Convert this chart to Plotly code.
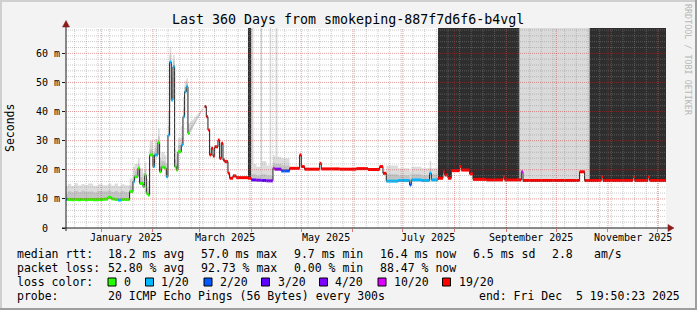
import plotly.graph_objects as go
import pandas as pd

# ---------------- data ----------------
TITLE = "Last 360 Days from smokeping-887f7d6f6-b4vgl"
X_START = "2024-12-10 19:50:23"
X_END = "2025-12-05 19:50:23"
Y_MAX = 68.7

dates = [
    "2024-12-10 19:50", "2024-12-12", "2024-12-14", "2024-12-16", "2024-12-18", "2024-12-20",
    "2024-12-22", "2024-12-24", "2024-12-27", "2024-12-30", "2025-01-02", "2025-01-05",
    "2025-01-07", "2025-01-09", "2025-01-11", "2025-01-13", "2025-01-15", "2025-01-18",
    "2025-01-20", "2025-01-21", "2025-01-23", "2025-01-24", "2025-01-26", "2025-01-27",
    "2025-01-28", "2025-01-29", "2025-01-30", "2025-02-01", "2025-02-02", "2025-02-04",
    "2025-02-05", "2025-02-06", "2025-02-08", "2025-02-09", "2025-02-10", "2025-02-11",
    "2025-02-12", "2025-02-13", "2025-02-14", "2025-02-15", "2025-02-16", "2025-02-18",
    "2025-02-19", "2025-02-20", "2025-02-21", "2025-02-22", "2025-02-23",
    "2025-03-04", "2025-03-05", "2025-03-06", "2025-03-07", "2025-03-08", "2025-03-09",
    "2025-03-10", "2025-03-12", "2025-03-13", "2025-03-14", "2025-03-15", "2025-03-16",
    "2025-03-18", "2025-03-19", "2025-03-21", "2025-03-23", "2025-03-30",
    "2025-04-01", "2025-04-04", "2025-04-07", "2025-04-10", "2025-04-14", "2025-04-15",
    "2025-04-19", "2025-04-24", "2025-04-30", "2025-05-01", "2025-05-03", "2025-05-12",
    "2025-05-13", "2025-05-24", "2025-06-03", "2025-06-10", "2025-06-17", "2025-06-19",
    "2025-06-21", "2025-06-28", "2025-07-05", "2025-07-06", "2025-07-12", "2025-07-17",
    "2025-07-18", "2025-07-22", "2025-07-25", "2025-07-26", "2025-07-28", "2025-07-30",
    "2025-08-04", "2025-08-05", "2025-08-10", "2025-08-12", "2025-08-20", "2025-08-30",
    "2025-08-31", "2025-09-10", "2025-09-11", "2025-10-15", "2025-10-18", "2025-10-28",
    "2025-10-29", "2025-11-16", "2025-11-17", "2025-11-25", "2025-11-26", "2025-12-05 19:50",
]
median_ms = [
    9.9, 9.8, 9.7, 9.8, 9.7, 9.8,
    9.7, 9.8, 9.7, 9.8, 9.9, 10.5,
    10.0, 9.8, 9.6, 9.8, 9.8, 12.5,
    15.9, 17.6, 20.5, 15.3, 14.2, 18.2,
    11.9, 11.3, 25.1, 21.1, 25.1, 29.4,
    19.3, 20.9, 20.5, 17.6, 31.9, 57.0,
    44.0, 55.4, 21.1, 19.9, 26.2, 28.5,
    38.2, 46.8, 48.5, 32.5, None,
    41.7, 38.2, 33.7, 25.1, 27.4, 24.7,
    27.9, 30.2, 23.9, 29.1, 23.4, 22.8,
    18.8, 17.1, 17.9, 17.3, 17.1,
    16.5, 16.4, 16.3, 16.2, 20.5, 20.2,
    19.6, 20.5, 25.1, 21.1, 20.2, 22.2,
    20.3, 20.2, 20.4, 20.1, 21.1, 18.8,
    16.1, 16.3, 14.8, 16.5, 16.3, 18.8,
    16.5, 17.1, 19.3, 18.2, 17.1, 19.7,
    21.1, 19.9, 18.6, 16.7, 16.5, 17.6,
    16.5, 19.3, 16.3, 19.3, 16.3, 17.6,
    16.3, 17.6, 16.3, 17.6, 16.3, 16.4,
]
# index into loss_labels / loss_colors
loss_idx = [
    1, 0, 0, 0, 0, 0,
    0, 0, 0, 0, 0, 0,
    0, 0, 1, 0, 0, 0,
    1, 0, 0, 0, 0, 0,
    0, 0, 0, 1, 1, 0,
    0, 0, 0, 1, 1, 1,
    1, 1, 0, 0, 0, 1,
    1, 1, 1, 0, None,
    6, 6, 6, 6, 6, 6,
    6, 6, 6, 6, 6, 6,
    6, 6, 6, 6, 6,
    3, 4, 3, 4, 5, 4,
    2, 6, 6, 6, 6, 6,
    6, 6, 6, 6, 6, 6,
    1, 1, 2, 1, 1, 1,
    1, 6, 6, 6, 6, 6,
    6, 6, 6, 6, 6, 6,
    6, 5, 6, 6, 6, 6,
    6, 6, 6, 6, 6, 6,
]
smoke_mid = [
    11.8, 12.6, 12.2, 12.8, 12.3, 12.9,
    12.4, 12.6, 12.2, 12.7, 12.5, 12.9,
    12.4, 12.7, 12.2, 12.6, 12.3, 14.5,
    18.0, 19.5, 22.0, 17.5, 16.0, 20.0,
    14.0, 13.5, 27.0, 23.0, 27.5, 31.5,
    21.5, 23.0, 22.5, 19.5, 35.0, 59.5,
    47.0, 57.5, 23.5, 22.0, 28.5, 31.0,
    41.0, 48.5, 50.0, 34.0, None,
    41.7, 38.2, 33.7, 25.1, 27.4, 24.7,
    27.9, 30.2, 23.9, 29.1, 23.4, 22.8,
    18.8, 17.1, 17.9, 17.3, 17.1,
    18.5, 18.0, 18.5, 18.0, 22.5, 22.0,
    21.5, 20.5, 25.1, 21.1, 20.2, 22.2,
    20.3, 20.2, 20.4, 20.1, 21.1, 18.8,
    18.5, 18.0, 17.0, 18.5, 18.0, 20.5,
    18.5, 17.1, 19.3, 18.2, 17.1, 19.7,
    21.1, 19.9, 18.6, 16.7, 16.5, 17.6,
    16.5, 19.3, 16.3, 19.3, 16.3, 17.6,
    16.3, 17.6, 16.3, 17.6, 16.3, 16.4,
]
smoke_hi = [
    14.5, 15.2, 14.4, 15.4, 14.6, 15.1,
    14.8, 15.3, 14.5, 15.0, 14.7, 15.2,
    14.6, 15.3, 14.4, 15.0, 14.7, 17.0,
    21.0, 22.0, 24.0, 20.5, 19.0, 22.5,
    17.0, 16.0, 30.0, 26.0, 30.5, 34.2,
    24.0, 26.0, 25.0, 22.0, 40.0, 62.3,
    52.0, 59.4, 27.0, 25.5, 31.0, 35.0,
    45.0, 50.5, 51.4, 36.0, None,
    41.7, 38.2, 33.7, 25.1, 27.4, 24.7,
    27.9, 30.2, 23.9, 29.1, 23.4, 22.8,
    18.8, 17.1, 17.9, 17.3, 17.1,
    22.0, 21.0, 23.0, 21.5, 25.0, 24.5,
    24.0, 20.5, 25.1, 21.1, 20.2, 22.2,
    20.3, 20.2, 20.4, 20.1, 21.1, 18.8,
    21.5, 20.5, 19.5, 21.0, 20.5, 23.0,
    20.5, 17.1, 19.3, 18.2, 17.1, 19.7,
    21.1, 19.9, 18.6, 16.7, 16.5, 17.6,
    16.5, 19.3, 16.3, 19.3, 16.3, 17.6,
    16.3, 17.6, 16.3, 17.6, 16.3, 16.4,
]

# full-height smoke spans (loss periods)
band_start = ["2025-03-30", "2025-04-01", "2025-04-06 12:00", "2025-04-12", "2025-04-15 12:00",
              "2025-07-22", "2025-09-09", "2025-10-21"]
band_end = ["2025-04-01", "2025-04-02 08:00", "2025-04-07 12:00", "2025-04-13", "2025-04-16 18:00",
            "2025-09-09", "2025-10-21", "2025-12-05 19:50:23"]
band_shade = ["dark", "light", "light", "light", "light", "dark", "light", "dark"]

loss_labels = ["0", "1/20", "2/20", "3/20", "4/20", "10/20", "19/20"]
loss_colors = ["#26ff00", "#00b8ff", "#0059ff", "#5e00ff", "#7e00ff", "#dd00ff", "#ff0000"]

y_tick_vals = [0, 10, 20, 30, 40, 50, 60]
y_tick_text = ["0\u00a0\u00a0", "10 m", "20 m", "30 m", "40 m", "50 m", "60 m"]
x_label_dates = ["2025-01-16", "2025-03-16", "2025-05-16", "2025-07-16", "2025-09-16", "2025-11-16"]
x_label_text = ["January 2025", "March 2025", "May 2025", "July 2025", "September 2025", "November 2025"]

rtt_stats = ["18.2 ms avg", "57.0 ms max", "9.7 ms min", "16.4 ms now", "6.5 ms sd", "2.8", "am/s"]
loss_stats = ["52.80 % avg", "92.73 % max", "0.00 % min", "88.47 % now"]
probe_text = "20 ICMP Echo Pings (56 Bytes) every 300s"
end_text = "end: Fri Dec\u00a0\u00a05 19:50:23 2025"

# ---------------- layout helpers (pixel -> paper) ----------------
W, H = 697, 310
L, R, T, B = 66, 31, 28, 82
PW, PH = W - L - R, H - T - B


def px(x):
    return (x - L) / PW


def py(y):
    return (H - B - y) / PH


MONO = "DejaVu Sans Mono"
shade_col = {"dark": "#2e2e2e", "light": "#dadada"}

fig = go.Figure()

# loss bands
for s, e, sh in zip(band_start, band_end, band_shade):
    fig.add_trace(go.Scatter(x=[s, e, e, s, s], y=[0, 0, Y_MAX, Y_MAX, 0], fill="toself",
                             fillcolor=shade_col[sh], line=dict(width=0), mode="lines",
                             hoverinfo="skip", showlegend=False))


def step_xy(vals):
    xs, ys = [], []
    for i in range(len(dates) - 1):
        v = vals[i]
        if v is None:
            xs.append(None)
            ys.append(None)
            continue
        xs += [dates[i], dates[i + 1]]
        ys += [v, v]
    return xs, ys


for vals, col in [(smoke_hi, "#dddddd"), (smoke_mid, "#c4c4c4"), (median_ms, "#ffffff")]:
    xs, ys = step_xy(vals)
    fig.add_trace(go.Scatter(x=xs, y=ys, mode="lines", fill="tozeroy", fillcolor=col,
                             line=dict(width=0, color=col), connectgaps=False,
                             hoverinfo="skip", showlegend=False))

xs, ys = step_xy(median_ms)
fig.add_trace(go.Scatter(x=xs, y=ys, mode="lines", line=dict(width=1, color="#202020"),
                         connectgaps=False, hoverinfo="skip", showlegend=False))

for ci, col in enumerate(loss_colors):
    sx, sy = [], []
    for i in range(len(dates) - 1):
        if loss_idx[i] == ci and median_ms[i] is not None:
            sx += [dates[i], dates[i + 1], None]
            sy += [median_ms[i], median_ms[i], None]
    if sx:
        fig.add_trace(go.Scatter(x=sx, y=sy, mode="lines", line=dict(width=3, color=col),
                                 connectgaps=False, hoverinfo="skip", showlegend=False))

shapes = []
# grid drawn above data (as rrdtool does)
MINOR = "rgba(140,140,140,0.45)"
MAJOR = "rgba(200,40,40,0.45)"
for d in pd.date_range("2024-12-16", "2025-12-05", freq="7D"):
    shapes.append(dict(type="line", xref="x", yref="paper", x0=d, x1=d, y0=0, y1=1,
                       line=dict(color=MINOR, width=1, dash="1px,1px"), layer="above"))
for v in range(2, 69, 2):
    if v % 10:
        shapes.append(dict(type="line", xref="paper", yref="y", x0=0, x1=1, y0=v, y1=v,
                           line=dict(color=MINOR, width=1, dash="1px,1px"), layer="above"))
for d in pd.date_range("2025-01-01", "2025-12-01", freq="MS"):
    shapes.append(dict(type="line", xref="x", yref="paper", x0=d, x1=d, y0=0, y1=1,
                       line=dict(color=MAJOR, width=1, dash="1px,1px"), layer="above"))
for v in range(10, 61, 10):
    shapes.append(dict(type="line", xref="paper", yref="y", x0=0, x1=1, y0=v, y1=v,
                       line=dict(color=MAJOR, width=1, dash="1px,1px"), layer="above"))

# axes with arrows
AX = "#1a1a1a"
ARROW = "#8b1c1c"
shapes.append(dict(type="line", xref="paper", yref="paper", x0=px(62), x1=px(669), y0=0, y1=0,
                   line=dict(color=AX, width=1), layer="above"))
shapes.append(dict(type="line", xref="paper", yref="paper", x0=0, x1=0, y0=py(231), y1=py(25),
                   line=dict(color=AX, width=1), layer="above"))
shapes.append(dict(type="path", xref="paper", yref="paper",
                   path=f"M {px(668)} {py(224.5)} L {px(674)} {py(228)} L {px(668)} {py(231.5)} Z",
                   fillcolor=ARROW, line=dict(color=ARROW, width=0.5), layer="above"))
shapes.append(dict(type="path", xref="paper", yref="paper",
                   path=f"M {px(62.5)} {py(27)} L {px(66)} {py(20.5)} L {px(69.5)} {py(27)} Z",
                   fillcolor=ARROW, line=dict(color=ARROW, width=0.5), layer="above"))

# frame of the image
shapes += [
    dict(type="rect", xref="paper", yref="paper", x0=px(0), x1=px(697), y0=py(0), y1=py(2),
         fillcolor="#cfcfcf", line=dict(width=0), layer="above"),
    dict(type="rect", xref="paper", yref="paper", x0=px(0), x1=px(2), y0=py(0), y1=py(310),
         fillcolor="#cfcfcf", line=dict(width=0), layer="above"),
    dict(type="rect", xref="paper", yref="paper", x0=px(0), x1=px(697), y0=py(308), y1=py(310),
         fillcolor="#9e9e9e", line=dict(width=0), layer="above"),
    dict(type="rect", xref="paper", yref="paper", x0=px(695), x1=px(697), y0=py(0), y1=py(310),
         fillcolor="#9e9e9e", line=dict(width=0), layer="above"),
]

# legend colour boxes
box_x = [108, 145.5, 204, 261.5, 319.5, 378, 442.5]
lab_x = [123, 160, 218.5, 276.5, 333.5, 392.5, 457.5]
for bx, col in zip(box_x, loss_colors):
    shapes.append(dict(type="rect", xref="paper", yref="paper", x0=px(bx), x1=px(bx + 8),
                       y0=py(286), y1=py(278), fillcolor=col, line=dict(color="#000000", width=1)))

ann = []


def text(x, y, s, size=11.5, color="#000000", anchor="left", angle=0):
    ann.append(dict(xref="paper", yref="paper", x=px(x), y=py(y), text=s, showarrow=False,
                    xanchor=anchor, yanchor="middle", textangle=angle, borderpad=0,
                    font=dict(family=MONO, size=size, color=color)))


text(348, 20, TITLE, size=13.3, anchor="center")
text(10, 128, "Seconds", size=11.5, anchor="center", angle=-90)
text(688, 60, "RRDTOOL / TOBI OETIKER", size=8.4, color="#b8b8b8", anchor="center", angle=90)

for d, s in zip(x_label_dates, x_label_text):
    ann.append(dict(xref="x", yref="paper", x=d, y=py(237.5), text=s, showarrow=False,
                    xanchor="center", yanchor="middle", borderpad=0,
                    font=dict(family=MONO, size=10, color="#000000")))

row_y = [254, 268, 282, 296]
col_x = [107.3, 200, 293.3, 379.3, 472.4, 551, 593.3]
text(16, row_y[0], "median rtt:")
for x, s in zip(col_x, rtt_stats):
    text(x, row_y[0], s)
text(16, row_y[1], "packet loss:")
for x, s in zip(col_x, loss_stats):
    text(x, row_y[1], s)
text(16, row_y[2], "loss color:")
for x, s in zip(lab_x, loss_labels):
    text(x, row_y[2], s)
text(16, row_y[3], "probe:")
text(107.3, row_y[3], probe_text)
text(478, row_y[3], end_text)

fig.update_layout(
    width=W, height=H,
    margin=dict(l=L, r=R, t=T, b=B, pad=0),
    paper_bgcolor="#f3f3f3", plot_bgcolor="#ffffff",
    showlegend=False,
    shapes=shapes, annotations=ann,
    xaxis=dict(type="date", range=[X_START, X_END], showgrid=False, zeroline=False,
               showline=False, tickmode="array", tickvals=[], showticklabels=False,
               minor=dict(tickmode="array",
                          tickvals=list(pd.date_range("2025-01-01", "2025-12-01", freq="MS")),
                          ticks="outside", ticklen=3, tickcolor="rgba(200,40,40,0.6)", showgrid=False)),
    yaxis=dict(range=[0, Y_MAX], showgrid=False, zeroline=False, showline=False,
               tickmode="array", tickvals=y_tick_vals, ticktext=y_tick_text,
               ticks="outside", ticklen=3, tickcolor="#1a1a1a",
               tickfont=dict(family=MONO, size=10, color="#000000")),
)

fig.write_html("out.html")
